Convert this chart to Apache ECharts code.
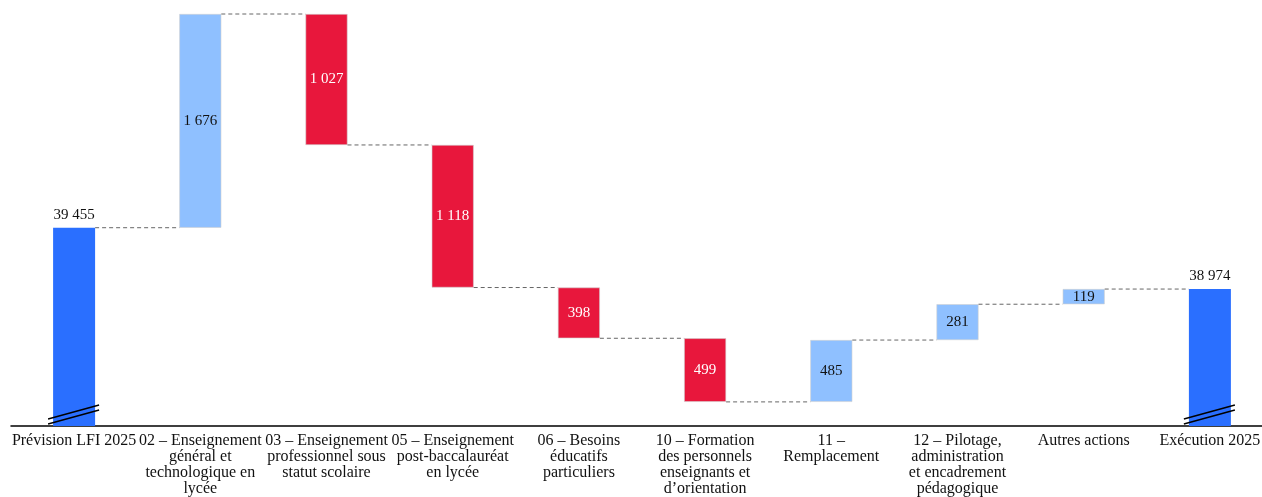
<!DOCTYPE html>
<html lang="fr">
<head>
<meta charset="utf-8">
<title>Passage de la prévision LFI 2025 à l'exécution 2025</title>
<script src="https://cdn.jsdelivr.net/npm/echarts@6/dist/echarts.min.js"></script>
<style>
  html, body { margin: 0; padding: 0; background: #fff; overflow: hidden; }
  /* le graphique déborde légèrement à droite de la fenêtre */
  #chart { width: 1273px; height: 497px; }
</style>
</head>
<body>
<div id="chart"></div>
<script>
// Catégories de l'axe horizontal (retours à la ligne explicites)
const categories = [
  'Prévision LFI 2025',
  '02 – Enseignement\ngénéral et\ntechnologique en\nlycée',
  '03 – Enseignement\nprofessionnel sous\nstatut scolaire',
  '05 – Enseignement\npost-baccalauréat\nen lycée',
  '06 – Besoins\néducatifs\nparticuliers',
  '10 – Formation\ndes personnels\nenseignants et\nd’orientation',
  '11 –\nRemplacement',
  '12 – Pilotage,\nadministration\net encadrement\npédagogique',
  'Autres actions',
  'Exécution 2025'
];
// Montants (M€) : totaux aux extrémités, écarts par action entre les deux
const values = [39455, 1676, -1027, -1118, -398, -499, 485, 281, 119, 38974];
// 't' = total, 'd' = écart
const kinds = ['t', 'd', 'd', 'd', 'd', 'd', 'd', 'd', 'd', 't'];

const AXIS_MIN = 37900;
const AXIS_MAX = 41131;
const COLORS = { total: '#2A6FFF', up: '#8FC0FF', down: '#E8173C' };
const FONT = 'Liberation Serif';
const BAR_W = 42;

const fmt = v => String(Math.abs(v)).replace(/\B(?=(\d{3})+(?!\d))/g, ' ');

// Cumul courant, base invisible et hauteur visible de chaque barre
const base = [], shown = [], cumAfter = [];
let running = 0;
values.forEach((v, i) => {
  if (kinds[i] === 't') {
    running = v;
    base.push(0);
    shown.push({ value: v, itemStyle: { color: COLORS.total },
      label: { position: 'top', distance: 5, color: '#111' } });
  } else {
    const prev = running;
    running += v;
    base.push(Math.min(prev, running));
    shown.push({ value: Math.abs(v),
      itemStyle: { color: v > 0 ? COLORS.up : COLORS.down,
                   borderColor: '#d0d0d0', borderWidth: 0.6 },
      label: { position: 'inside', color: v > 0 ? '#111' : '#fff' } });
  }
  cumAfter.push(running);
});

// Traits pointillés entre barres successives
const connectors = [];
for (let i = 0; i < values.length - 1; i++) connectors.push([i, cumAfter[i]]);

// Marques de coupure d'axe au pied des barres de total
const breaks = [];
kinds.forEach((k, i) => { if (k === 't') breaks.push([i, AXIS_MIN]); });

const chart = echarts.init(document.getElementById('chart'));
chart.setOption({
  animation: false,
  backgroundColor: '#fff',
  textStyle: { fontFamily: FONT },
  grid: { left: 11, top: 14, right: 0, bottom: 71 },
  xAxis: {
    type: 'category',
    data: categories,
    axisLine: { lineStyle: { color: '#000', width: 1.5 } },
    axisTick: { show: false },
    axisLabel: {
      interval: 0, color: '#111', fontFamily: FONT, fontSize: 16,
      lineHeight: 16, margin: 7
    }
  },
  yAxis: {
    type: 'value', min: AXIS_MIN, max: AXIS_MAX, show: false,
    splitLine: { show: false }
  },
  series: [
    {
      type: 'bar', stack: 'w', barWidth: BAR_W, silent: true,
      itemStyle: { color: 'transparent' }, data: base
    },
    {
      type: 'bar', stack: 'w', barWidth: BAR_W,
      label: {
        show: true, fontFamily: FONT, fontSize: 15,
        formatter: p => fmt(values[p.dataIndex])
      },
      data: shown
    },
    {
      type: 'custom', z: 5, silent: true,
      renderItem: (params, api) => {
        const i = api.value(0), v = api.value(1);
        const a = api.coord([i, v]), b = api.coord([i + 1, v]);
        return {
          type: 'line',
          shape: { x1: a[0] + BAR_W / 2, y1: a[1], x2: b[0] - BAR_W / 2, y2: b[1] },
          style: { stroke: '#666', lineWidth: 1, lineDash: [4, 3] }
        };
      },
      data: connectors
    },
    {
      type: 'custom', z: 6, silent: true, clip: false,
      renderItem: (params, api) => {
        const p = api.coord([api.value(0), api.value(1)]);
        const x = p[0], y = p[1];
        const mk = dy => ({
          type: 'line',
          shape: { x1: x - 26, y1: y - dy, x2: x + 25, y2: y - dy - 14 },
          style: { stroke: '#000', lineWidth: 1.4 }
        });
        return { type: 'group', children: [mk(7), mk(2)] };
      },
      data: breaks
    }
  ]
});
</script>
</body>
</html>
